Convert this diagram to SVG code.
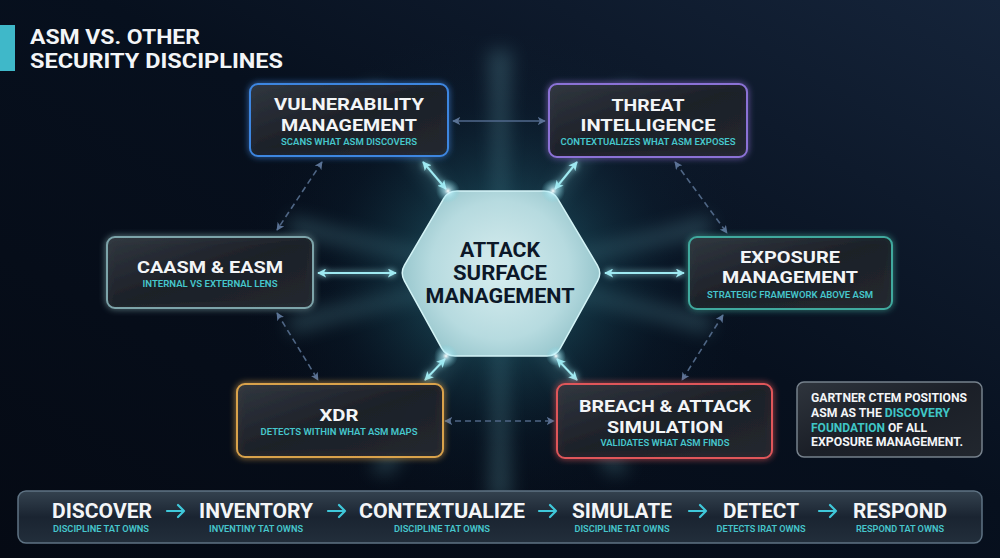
<svg xmlns="http://www.w3.org/2000/svg" width="1000" height="558" viewBox="0 0 1000 558">
<defs>
<style>
.t{font-family:Roboto,"Liberation Sans",sans-serif;font-weight:700;fill:#f3f5f7}
.h{font-family:Roboto,"Liberation Sans",sans-serif;font-weight:700;fill:#0c1828;font-size:21px}
.nt{font-size:17px;text-anchor:middle}
.sub{font-family:Roboto,"Liberation Sans",sans-serif;font-weight:600;fill:#46c6cc;font-size:9.5px;text-anchor:middle}
.box{fill:url(#boxg);stroke-width:2}
.bright{stroke:#9feaf2;stroke-width:2;fill:none;marker-start:url(#ab);marker-end:url(#ab)}
.dim{stroke:#4f6685;stroke-width:1.6;fill:none;stroke-dasharray:6 4;marker-start:url(#ad);marker-end:url(#ad)}
.solidDim{stroke:#50688c;stroke-width:1.5;fill:none;marker-start:url(#ad);marker-end:url(#ad)}
.bw{font-family:Roboto,"Liberation Sans",sans-serif;font-weight:700;fill:#f3f5f7;font-size:20px;text-anchor:middle}
.bs{font-family:Roboto,"Liberation Sans",sans-serif;font-weight:600;fill:#46c6cc;font-size:9px;text-anchor:middle}
.ct{font-family:Roboto,"Liberation Sans",sans-serif;font-weight:700;fill:#f3f5f7;font-size:12px}
.barrow{stroke:#3fc8da;stroke-width:2.2;fill:none;stroke-linecap:round;stroke-linejoin:round}
</style>
<linearGradient id="bg" x1="0" y1="1" x2="1" y2="0">
<stop offset="0" stop-color="#050a14"/>
<stop offset="0.55" stop-color="#07101e"/>
<stop offset="1" stop-color="#15243a"/>
</linearGradient>
<radialGradient id="glow" cx="500" cy="274" r="260" gradientUnits="userSpaceOnUse">
<stop offset="0" stop-color="#7fdbe6" stop-opacity="0.6"/>
<stop offset="0.3" stop-color="#3596a8" stop-opacity="0.3"/>
<stop offset="0.65" stop-color="#15465a" stop-opacity="0.1"/>
<stop offset="1" stop-color="#0a1a28" stop-opacity="0"/>
</radialGradient>
<radialGradient id="hexg" cx="500" cy="270" r="115" gradientUnits="userSpaceOnUse">
<stop offset="0" stop-color="#e2f5f6"/>
<stop offset="0.6" stop-color="#c2e6ea"/>
<stop offset="1" stop-color="#92c8cf"/>
</radialGradient>
<linearGradient id="boxg" x1="0" y1="0" x2="1" y2="1">
<stop offset="0" stop-color="#31373f" stop-opacity="0.95"/>
<stop offset="0.5" stop-color="#1c2028" stop-opacity="0.95"/>
<stop offset="1" stop-color="#23282f" stop-opacity="0.95"/>
</linearGradient>
<linearGradient id="barg" x1="0" y1="0" x2="0" y2="1">
<stop offset="0" stop-color="#34424f"/>
<stop offset="0.5" stop-color="#1a2431"/>
<stop offset="1" stop-color="#222e3b"/>
</linearGradient>
<radialGradient id="flare">
<stop offset="0" stop-color="#ffffff" stop-opacity="1"/>
<stop offset="0.3" stop-color="#bff4ff" stop-opacity="0.6"/>
<stop offset="1" stop-color="#6fd3e0" stop-opacity="0"/>
</radialGradient>
<filter id="gl" x="-20%" y="-40%" width="140%" height="180%">
<feGaussianBlur in="SourceGraphic" stdDeviation="3" result="b"/>
<feMerge><feMergeNode in="b"/><feMergeNode in="SourceGraphic"/></feMerge>
</filter>
<filter id="blurR" x="-50%" y="-50%" width="200%" height="200%">
<feGaussianBlur stdDeviation="9"/>
</filter>
<marker id="ab" viewBox="0 0 10 10" refX="9" refY="5" markerWidth="9" markerHeight="9" markerUnits="userSpaceOnUse" orient="auto-start-reverse">
<path d="M0,0 L10,5 L0,10 L2.5,5 Z" fill="#9feaf2"/>
</marker>
<marker id="ad" viewBox="0 0 10 10" refX="9" refY="5" markerWidth="8" markerHeight="8" markerUnits="userSpaceOnUse" orient="auto-start-reverse">
<path d="M0,0 L10,5 L0,10 L2.5,5 Z" fill="#5a7295"/>
</marker>
</defs>

<rect width="1000" height="558" fill="url(#bg)"/>
<ellipse cx="500" cy="274" rx="310" ry="240" fill="url(#glow)"/>
<g opacity="0.2" filter="url(#blurR)" fill="#8fe2ee">
<polygon points="500,274 488,50 512,50"/>
<polygon points="500,274 488,500 512,500"/>
<polygon points="500,274 290,215 290,235"/>
<polygon points="500,274 710,215 710,235"/>
<polygon points="500,274 290,315 290,335"/>
<polygon points="500,274 710,315 710,335"/>
<polygon points="500,274 360,90 380,84"/>
<polygon points="500,274 640,90 620,84"/>
<polygon points="500,274 370,470 390,476"/>
<polygon points="500,274 630,470 610,476"/>
</g>

<g id="title">
<rect x="0" y="25" width="15" height="46" fill="#3fb8c9"/>
<text class="t" x="30" y="44" font-size="20.5" textLength="170" lengthAdjust="spacingAndGlyphs">ASM VS. OTHER</text>
<text class="t" x="30" y="68" font-size="20.5" textLength="253" lengthAdjust="spacingAndGlyphs">SECURITY DISCIPLINES</text>
</g>

<g id="connectors">
<line class="solidDim" x1="453" y1="121" x2="545" y2="121"/>
<g filter="url(#gl)">
<line class="bright" x1="423" y1="162" x2="446" y2="189"/>
<line class="bright" x1="577" y1="162" x2="555" y2="189"/>
<line class="bright" x1="318" y1="273" x2="396" y2="273"/>
<line class="bright" x1="605" y1="273" x2="684" y2="273"/>
<line class="bright" x1="445" y1="359" x2="425" y2="380"/>
<line class="bright" x1="557" y1="359" x2="577" y2="380"/>
</g>
<line class="dim" x1="322" y1="162" x2="277" y2="230"/>
<line class="dim" x1="277" y1="313" x2="318" y2="380"/>
<line class="dim" x1="675" y1="162" x2="727" y2="233"/>
<line class="dim" x1="723" y1="315" x2="682" y2="380"/>
<line class="dim" x1="445" y1="421" x2="554" y2="421"/>
</g>

<g id="asm">
<path d="M457,191 L544,191 Q553,191 557.6,198.7 L597.4,265.3 Q602,273 597.6,280.9 L560.4,348.1 Q556,356 547,356 L455,356 Q446,356 441.6,348.1 L404.4,280.9 Q400,273 404.5,265.2 L443.5,198.8 Q448,191 457,191 Z" fill="url(#hexg)" fill-opacity="0.93" stroke="#d4f4f7" stroke-width="1.5"/>
<circle cx="448" cy="191" r="12" fill="url(#flare)"/>
<circle cx="553" cy="191" r="12" fill="url(#flare)"/>
<circle cx="446" cy="356" r="12" fill="url(#flare)"/>
<circle cx="556" cy="356" r="10" fill="url(#flare)"/>
<text class="h" x="500" y="257" text-anchor="middle" textLength="80" lengthAdjust="spacingAndGlyphs">ATTACK</text>
<text class="h" x="500" y="280" text-anchor="middle" textLength="94" lengthAdjust="spacingAndGlyphs">SURFACE</text>
<text class="h" x="500" y="303" text-anchor="middle" textLength="149" lengthAdjust="spacingAndGlyphs">MANAGEMENT</text>
</g>

<g id="vm">
<rect class="box" x="250" y="84" width="198" height="72" rx="8" stroke="#3d86e0" filter="url(#gl)"/>
<text class="t nt" x="349" y="110" textLength="150" lengthAdjust="spacingAndGlyphs">VULNERABILITY</text>
<text class="t nt" x="349" y="131" textLength="136" lengthAdjust="spacingAndGlyphs">MANAGEMENT</text>
<text class="sub" x="349" y="145" textLength="136" lengthAdjust="spacingAndGlyphs">SCANS WHAT ASM DISCOVERS</text>
</g>

<g id="ti">
<rect class="box" x="549" y="84" width="198" height="73" rx="8" stroke="#8b72d6" filter="url(#gl)"/>
<text class="t nt" x="648" y="111" textLength="73" lengthAdjust="spacingAndGlyphs">THREAT</text>
<text class="t nt" x="648" y="131" textLength="135" lengthAdjust="spacingAndGlyphs">INTELLIGENCE</text>
<text class="sub" x="648" y="145" textLength="175" lengthAdjust="spacingAndGlyphs">CONTEXTUALIZES WHAT ASM EXPOSES</text>
</g>

<g id="caasm">
<rect class="box" x="107" y="237" width="206" height="71" rx="8" stroke="#7da4aa" filter="url(#gl)"/>
<text class="t nt" x="210" y="273" font-size="19" textLength="146" lengthAdjust="spacingAndGlyphs">CAASM &amp; EASM</text>
<text class="sub" x="210" y="287" textLength="135" lengthAdjust="spacingAndGlyphs">INTERNAL VS EXTERNAL LENS</text>
</g>

<g id="em">
<rect class="box" x="689" y="237" width="203" height="72" rx="8" stroke="#3fa99e" filter="url(#gl)"/>
<text class="t nt" x="790" y="263" textLength="100" lengthAdjust="spacingAndGlyphs">EXPOSURE</text>
<text class="t nt" x="790" y="283" textLength="136" lengthAdjust="spacingAndGlyphs">MANAGEMENT</text>
<text class="sub" x="790" y="298" textLength="166" lengthAdjust="spacingAndGlyphs">STRATEGIC FRAMEWORK ABOVE ASM</text>
</g>

<g id="xdr">
<rect class="box" x="237" y="384" width="206" height="73" rx="8" stroke="#d9a24c" filter="url(#gl)"/>
<text class="t nt" x="339" y="421" font-size="19" textLength="39" lengthAdjust="spacingAndGlyphs">XDR</text>
<text class="sub" x="339" y="435" textLength="157" lengthAdjust="spacingAndGlyphs">DETECTS WITHIN WHAT ASM MAPS</text>
</g>

<g id="bas">
<rect class="box" x="557" y="384" width="215" height="74" rx="8" stroke="#e0575a" filter="url(#gl)"/>
<text class="t nt" x="665" y="412" textLength="172" lengthAdjust="spacingAndGlyphs">BREACH &amp; ATTACK</text>
<text class="t nt" x="665" y="433" textLength="116" lengthAdjust="spacingAndGlyphs">SIMULATION</text>
<text class="sub" x="665" y="446" textLength="129" lengthAdjust="spacingAndGlyphs">VALIDATES WHAT ASM FINDS</text>
</g>

<g id="callout">
<rect x="797" y="382" width="185" height="75" rx="7" fill="url(#boxg)" stroke="#76818c" stroke-width="1.5"/>
<text class="ct" x="811" y="402" textLength="156" lengthAdjust="spacingAndGlyphs">GARTNER CTEM POSITIONS</text>
<text class="ct" x="811" y="417" textLength="139" lengthAdjust="spacingAndGlyphs">ASM AS THE <tspan fill="#3fc6c6">DISCOVERY</tspan></text>
<text class="ct" x="811" y="432" textLength="116" lengthAdjust="spacingAndGlyphs"><tspan fill="#3fc6c6">FOUNDATION</tspan> OF ALL</text>
<text class="ct" x="811" y="446" textLength="152" lengthAdjust="spacingAndGlyphs">EXPOSURE MANAGEMENT.</text>
</g>

<g id="pipeline">
<rect x="18" y="491" width="964" height="52" rx="8" fill="url(#barg)" stroke="#5f7384" stroke-width="1.5"/>
<text class="bw" x="102" y="518" textLength="100" lengthAdjust="spacingAndGlyphs">DISCOVER</text>
<text class="bs" x="101" y="532" textLength="96" lengthAdjust="spacingAndGlyphs">DISCIPLINE TAT OWNS</text>
<text class="bw" x="256" y="518" textLength="114" lengthAdjust="spacingAndGlyphs">INVENTORY</text>
<text class="bs" x="256" y="532" textLength="94" lengthAdjust="spacingAndGlyphs">INVENTINY TAT OWNS</text>
<text class="bw" x="442" y="518" textLength="166" lengthAdjust="spacingAndGlyphs">CONTEXTUALIZE</text>
<text class="bs" x="442" y="532" textLength="96" lengthAdjust="spacingAndGlyphs">DISCIPLINE TAT OWNS</text>
<text class="bw" x="622" y="518" textLength="100" lengthAdjust="spacingAndGlyphs">SIMULATE</text>
<text class="bs" x="622" y="532" textLength="95" lengthAdjust="spacingAndGlyphs">DISCIPLINE TAT OWNS</text>
<text class="bw" x="761" y="518" textLength="76" lengthAdjust="spacingAndGlyphs">DETECT</text>
<text class="bs" x="761" y="532" textLength="89" lengthAdjust="spacingAndGlyphs">DETECTS IRAT OWNS</text>
<text class="bw" x="900" y="518" textLength="94" lengthAdjust="spacingAndGlyphs">RESPOND</text>
<text class="bs" x="900" y="532" textLength="88" lengthAdjust="spacingAndGlyphs">RESPOND TAT OWNS</text>
<path class="barrow" d="M167,511 H184 M178,505 L184,511 L178,517"/>
<path class="barrow" d="M328,511 H345 M339,505 L345,511 L339,517"/>
<path class="barrow" d="M539,511 H556 M550,505 L556,511 L550,517"/>
<path class="barrow" d="M689,511 H706 M700,505 L706,511 L700,517"/>
<path class="barrow" d="M819,511 H836 M830,505 L836,511 L830,517"/>
</g>
</svg>
